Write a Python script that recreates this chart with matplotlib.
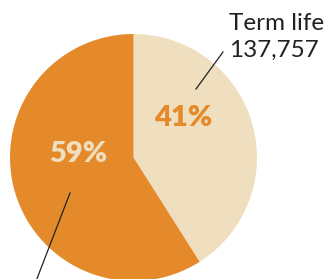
import matplotlib.pyplot as plt

labels = ['Term life', 'Other']
shares = [41, 59]
term_count = 137757

light = '#EFDFBF'
orange = '#E48A2B'

fig = plt.figure(figsize=(3.27, 2.79), dpi=100)
ax = fig.add_axes([0, 0, 1, 1])

cx, cy, r = 133.5, 121.5, 123.5
ax.pie(shares, colors=[light, orange], startangle=90, counterclock=False,
       center=(cx, cy), radius=r, frame=True)
ax.set_xlim(0, 327)
ax.set_ylim(0, 279)
ax.set_aspect('equal')
ax.axis('off')

ax.text(cx + 50, cy + 40, f'{shares[0]}%', color=orange, fontsize=21,
        fontweight='heavy', family='Lato', ha='center', va='center')
ax.text(cx - 55, cy + 3, f'{shares[1]}%', color=light, fontsize=21,
        fontweight='heavy', family='Lato', ha='center', va='center')

ax.text(229, 279 - 30, labels[0], fontsize=17.5, family='Lato',
        color='#222222', ha='left', va='baseline')
ax.text(229, 279 - 57, f'{term_count:,}', fontsize=17.5, family='Lato',
        color='#222222', ha='left', va='baseline')

ax.plot([196, 223], [279 - 89, 279 - 52], color='#222222', lw=0.9)
ax.plot([70, 33], [279 - 193, -10], color='#222222', lw=0.9, clip_on=False)

fig.savefig('out.png', dpi=100)
